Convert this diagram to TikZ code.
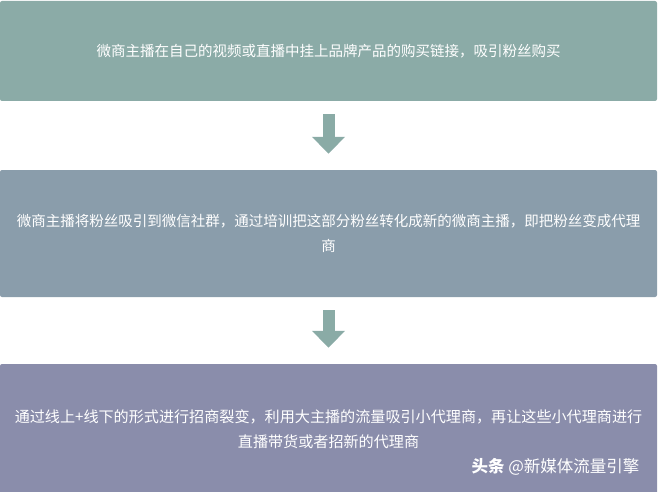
\documentclass[tikz,border=0pt]{standalone}
\usepackage{fontspec}
\setmainfont{Noto Sans CJK SC}
\usetikzlibrary{arrows.meta}

\definecolor{stageA}{HTML}{8BABA7}
\definecolor{stageB}{HTML}{8A9DAB}
\definecolor{stageC}{HTML}{8A8DAB}
\definecolor{flowcol}{HTML}{8AABA6}

\begin{document}
\begin{tikzpicture}[x=1pt, y=-1pt]
\tikzset{stage/.style = {rounded corners=2pt, minimum width=657pt, inner sep=0pt, align=center, text=white, font=\fontsize{14.5}{25}\selectfont}}
\tikzset{flow/.style = {flowcol, line width=12pt, -{Triangle[width=32pt, length=17pt]}, shorten <=13pt, shorten >=16pt}}
\def \mid {328.5}
\useasboundingbox (0,0) rectangle (658,492);
\node[stage, fill=stageA, minimum height=100pt](s1) at (\mid,51) {微商主播在自己的视频或直播中挂上品牌产品的购买链接，吸引粉丝购买};
\node[stage, fill=stageB, minimum height=127pt](s2) at (\mid,233.5) {微商主播将粉丝吸引到微信社群，通过培训把这部分粉丝转化成新的微商主播，即把粉丝变成代理\\商};
\node[stage, fill=stageC, minimum height=130pt, font=\fontsize{15.1}{25}\selectfont](s3) at (\mid,429) {通过线上+线下的形式进行招商裂变，利用大主播的流量吸引小代理商，再让这些小代理商进行\\直播带货或者招新的代理商};
\node[anchor=east, text=white, font=\fontsize{16.5}{18}\selectfont](mark) at (643,467) {\textbf{头条} @新媒体流量引擎};
\draw[flow] (s1) to (s2);
\draw[flow] (s2) to (s3);
\end{tikzpicture}
\end{document}
